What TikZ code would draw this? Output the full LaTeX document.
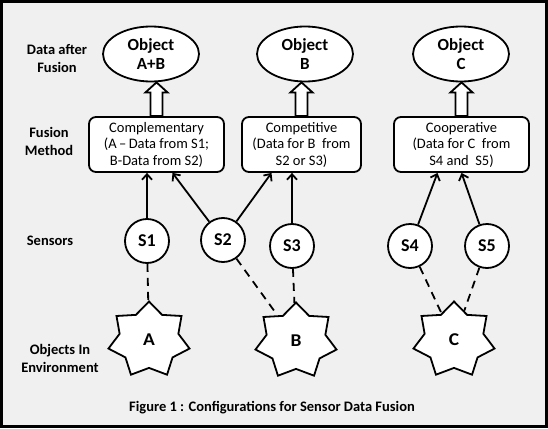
\documentclass[tikz,border=0pt]{standalone}
\usepackage{fontspec}
\setmainfont{Carlito}
\usetikzlibrary{shapes.geometric,arrows.meta,calc}
\definecolor{bg}{HTML}{F0F0F0}
\begin{document}
\begin{tikzpicture}[x=1pt,y=-1pt,line width=1.8pt,
  obj/.style={ellipse,draw,fill=white,minimum width=96pt,minimum height=55pt,inner sep=0pt,align=center,font=\fontsize{17}{19}\selectfont\bfseries},
  method/.style={draw,fill=white,rounded corners=7pt,minimum height=55pt,inner sep=0pt,align=center,font=\fontsize{14.5}{16.5}\selectfont},
  sensor/.style={circle,draw,fill=white,minimum size=44pt,inner sep=0pt,font=\fontsize{18}{20}\selectfont\bfseries},
  thing/.style={star,star points=7,star point ratio=1.38,draw,fill=white,minimum size=77pt,xscale=1.08,inner sep=0pt,font=\fontsize{18}{20}\selectfont\bfseries},
  side/.style={align=center,font=\fontsize{14.5}{18}\selectfont\bfseries},
  link/.style={-{Straight Barb[length=5.5pt,width=10pt]},line width=1.8pt},
  sense/.style={dash pattern=on 8pt off 6pt,line width=1.8pt},
  hollow/.style={draw,fill=white,line width=1.8pt,line join=miter}]
\useasboundingbox (0,0) rectangle (548,428);
\fill[bg] (0,0) rectangle (548,428);
\draw[line width=3pt] (1.5,1.5) rectangle (546.5,426.5);

% side labels
\node[side] (l1) at (57,59) {Data after\\Fusion};
\node[side] (l2) at (49,141) {Fusion\\Method};
\node[side] (l3) at (50,241) {Sensors};
\node[side] (l4) at (60,358) {Objects In\\Environment};

% fused objects
\node[obj] (oab) at (151,54) {Object\\A+B};
\node[obj] (ob) at (305,54) {Object\\B};
\node[obj] (oc) at (461,54) {Object\\C};

% fusion methods
\node[method,minimum width=135pt] (comp) at (156.5,144.5) {Complementary\\(A\,--\,Data from S1;\\B-Data from S2)};
\node[method,minimum width=119pt] (compet) at (301.5,144.5) {Competitive\\(Data for B\ \ from\\S2 or S3)};
\node[method,minimum width=135pt] (coop) at (461.5,144.5) {Cooperative\\(Data for C\ \ from\\S4 and\ \ S5)};

% sensors
\node[sensor] (s1) at (147,241) {S1};
\node[sensor] (s2) at (223,240) {S2};
\node[sensor] (s3) at (292,246) {S3};
\node[sensor] (s4) at (410,246) {S4};
\node[sensor] (s5) at (487,246) {S5};

% objects in environment
\node[thing] (a) at (149,340) {A};
\node[thing] (b) at (296,341) {B};
\node[thing] (c) at (454,340) {C};

% hollow arrows
\foreach \m/\o in {comp/oab,compet/ob,coop/oc}{
  \draw[hollow] ($(\m.north)+(-6,0)$) -- ($(\m.north |- \o.south)+(-6,10)$) -- ++(-5,0)
    -- (\m.north |- \o.south) -- ++(11,10) -- ++(-5,0) -- ($(\m.north)+(6,0)$) -- cycle;
}

% sensor to method
\draw[link] (s1) -- (comp.south -| s1);
\draw[link] (s2) -- ([xshift=16pt]comp.south);
\draw[link] (s2) -- ([xshift=-30pt]compet.south);
\draw[link] (s3) -- (compet.south -| s3);
\draw[link] (s4) -- ([xshift=-24pt]coop.south);
\draw[link] (s5) -- (coop.south);

% object to sensor
\draw[sense] (s1) -- (a);
\draw[sense] (s2) -- (b);
\draw[sense] (s3) -- (b);
\draw[sense] (s4) -- (c);
\draw[sense] (s5) -- (c);

\node[font=\fontsize{14.5}{16}\selectfont\bfseries] (cap) at (272,408) {Figure 1 : Configurations for Sensor Data Fusion};
\end{tikzpicture}
\end{document}
